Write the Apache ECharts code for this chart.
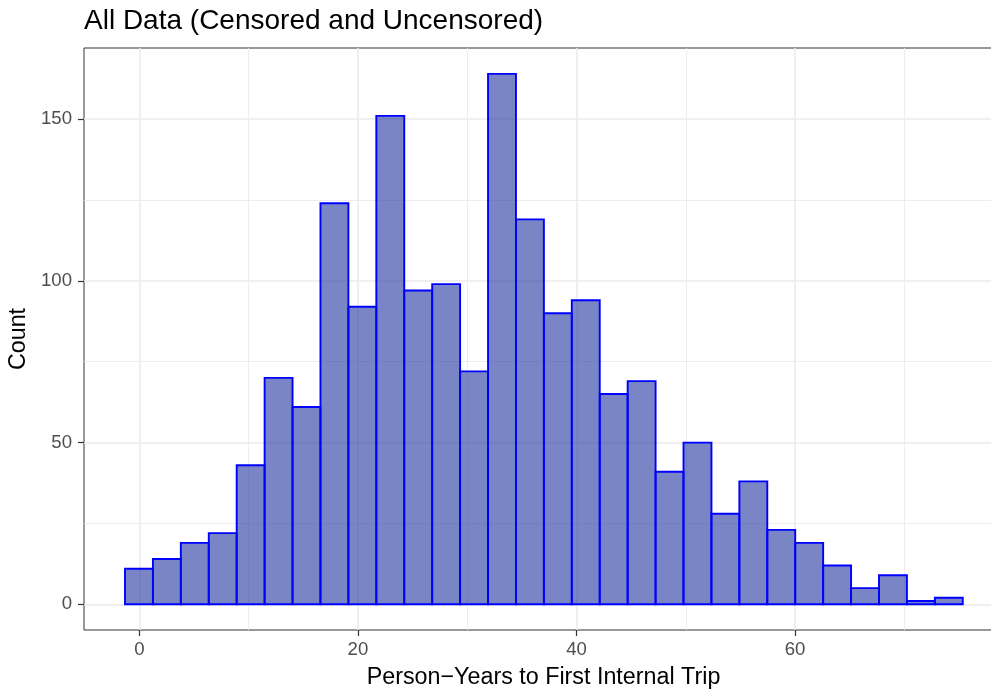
<!DOCTYPE html>
<html>
<head>
<meta charset="utf-8">
<script src="https://cdn.jsdelivr.net/npm/echarts@6/dist/echarts.min.js"></script>
<style>html,body{margin:0;padding:0;background:#fff;}#c{width:991px;height:692px;}</style>
</head>
<body>
<div id="c"></div>
<script>
// Histogram counts (30 bins)
var counts = [11, 14, 19, 22, 43, 70, 61, 124, 92, 151, 97, 99, 72, 164, 119, 90, 94, 65, 69, 41, 50, 28, 38, 23, 19, 12, 5, 9, 1, 2];
// Bin definition
var binStart = -1.31;
var binWidth = 2.555;
// Tick values / labels
var xTicks = [0, 20, 40, 60];
var xMinor = [10, 30, 50, 70];
var yTicks = [0, 50, 100, 150];
var yMinor = [25, 75, 125];
var titleText = 'All Data (Censored and Uncensored)';
var xTitle = 'Person\u2212Years to First Internal Trip';
var yTitle = 'Count';

var bins = counts.map(function (c, i) {
  return [binStart + i * binWidth, binStart + (i + 1) * binWidth, c];
});

var font = '"Liberation Sans", Arial, Helvetica, sans-serif';
var gridLines = [];
xTicks.forEach(function (v) { gridLines.push({ xAxis: v, lineStyle: { color: '#EBEBEB', width: 1.6, type: 'solid' } }); });
xMinor.forEach(function (v) { gridLines.push({ xAxis: v, lineStyle: { color: '#EBEBEB', width: 0.9, type: 'solid' } }); });
yTicks.forEach(function (v) { gridLines.push({ yAxis: v, lineStyle: { color: '#EBEBEB', width: 1.6, type: 'solid' } }); });
yMinor.forEach(function (v) { gridLines.push({ yAxis: v, lineStyle: { color: '#EBEBEB', width: 0.9, type: 'solid' } }); });

var chart = echarts.init(document.getElementById('c'), null, { renderer: 'canvas' });
chart.setOption({
  animation: false,
  backgroundColor: '#ffffff',
  title: {
    text: titleText,
    left: 84, top: 7, padding: 0,
    textStyle: { fontFamily: font, fontSize: 28, fontWeight: 'normal', color: '#000' }
  },
  grid: {
    left: 84, top: 48, width: 919, height: 582,
    outerBoundsMode: 'none', containLabel: false,
    show: true, borderColor: '#333333', borderWidth: 1, backgroundColor: 'transparent'
  },
  xAxis: {
    type: 'value', min: -5.06, max: 79.02,
    name: xTitle, nameLocation: 'middle', nameGap: 36,
    nameTextStyle: { fontFamily: font, fontSize: 23.3, color: '#000', verticalAlign: 'top' },
    axisLine: { show: false, onZero: false },
    axisTick: { show: true, length: 6, customValues: xTicks, lineStyle: { color: '#333333', width: 1.2 } },
    axisLabel: { customValues: xTicks, margin: 10, fontFamily: font, fontSize: 18.6, color: '#4D4D4D' },
    splitLine: { show: false }
  },
  yAxis: {
    type: 'value', min: -7.95, max: 172.0,
    name: yTitle, nameLocation: 'middle', nameGap: 50, nameRotate: 90,
    nameTextStyle: { fontFamily: font, fontSize: 23.3, color: '#000' },
    axisLine: { show: false, onZero: false },
    axisTick: { show: true, length: 6, customValues: yTicks, lineStyle: { color: '#333333', width: 1.2 } },
    axisLabel: { customValues: yTicks, margin: 12, fontFamily: font, fontSize: 18.6, color: '#4D4D4D' },
    splitLine: { show: false }
  },
  series: [
    {
      type: 'line', data: [], z: 1, silent: true,
      markLine: { silent: true, symbol: ['none', 'none'], label: { show: false }, animation: false, data: gridLines }
    },
    {
      type: 'custom', z: 5, silent: true,
      data: bins,
      encode: { x: [0, 1], y: 2 },
      renderItem: function (params, api) {
        var p0 = api.coord([api.value(0), api.value(2)]);
        var p1 = api.coord([api.value(1), 0]);
        return {
          type: 'rect',
          shape: { x: p0[0], y: p0[1], width: p1[0] - p0[0], height: p1[1] - p0[1] },
          style: { fill: 'rgba(34,52,158,0.6)', stroke: '#0000FF', lineWidth: 1.9 }
        };
      }
    }
  ]
});
</script>
</body>
</html>
